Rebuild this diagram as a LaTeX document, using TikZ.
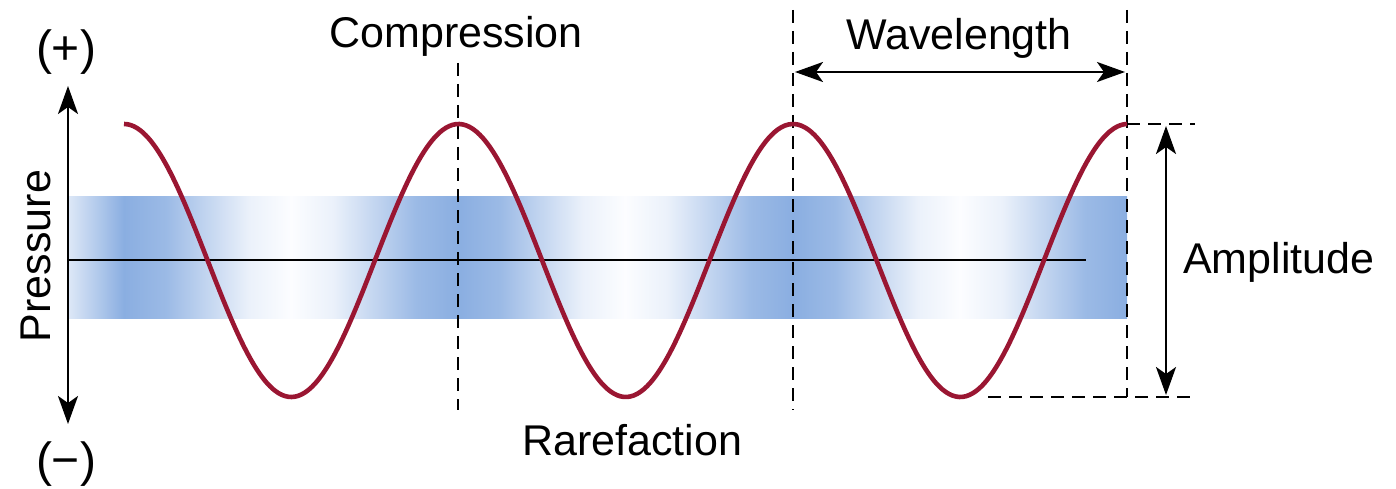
\documentclass[tikz,border=0pt]{standalone}
\usepackage{fontspec}
\setmainfont{Liberation Sans}
\usetikzlibrary{arrows.meta}
\definecolor{wavered}{RGB}{154,22,50}
\definecolor{banddark}{RGB}{138,174,225}
\definecolor{bandlight}{RGB}{222,232,247}
\definecolor{bandwhite}{RGB}{252,253,255}
\colorlet{bEF}{banddark!85!bandwhite}
\colorlet{bHF}{banddark!50!bandwhite}
\colorlet{bFF}{banddark!15!bandwhite}
\pgfdeclarehorizontalshading{bandshade}{100bp}{%
  color(0bp)=(bandlight); color(25bp)=(bandlight);
  color(27.64bp)=(banddark);
  color(29.61bp)=(bEF); color(31.585bp)=(bHF); color(33.56bp)=(bFF);
  color(35.53bp)=(bandwhite);
  color(37.50bp)=(bFF); color(39.47bp)=(bHF); color(41.44bp)=(bEF);
  color(43.41bp)=(banddark);
  color(45.38bp)=(bEF); color(47.355bp)=(bHF); color(49.33bp)=(bFF);
  color(51.30bp)=(bandwhite);
  color(53.28bp)=(bFF); color(55.265bp)=(bHF); color(57.25bp)=(bEF);
  color(59.23bp)=(banddark);
  color(61.20bp)=(bEF); color(63.17bp)=(bHF); color(65.14bp)=(bFF);
  color(67.11bp)=(bandwhite);
  color(69.08bp)=(bFF); color(71.055bp)=(bHF); color(73.03bp)=(bEF);
  color(75bp)=(banddark); color(100bp)=(banddark)}
\tikzset{
  lbl/.style={font=\fontsize{43}{50}\selectfont, inner sep=0pt},
  sign/.style={font=\fontsize{48}{56}\selectfont, inner sep=0pt},
  guide/.style={line width=2pt, dash pattern=on 13pt off 8pt},
  dimarrow/.style={line width=2.5pt, {Stealth[length=28pt,width=20pt,inset=7pt]}-{Stealth[length=28pt,width=20pt,inset=7pt]}},
  wave/.style={line width=4.6pt, wavered},
}
\begin{document}
\begin{tikzpicture}[x=1pt,y=-1pt]
\useasboundingbox (0,0) rectangle (1396,489);
% blue band
\path[shading=bandshade, shading angle=0] (68,196) rectangle (1127,318);
% coordinates
\coordinate (axtop) at (68,86);
\coordinate (axbot) at (68,424);
\coordinate (midL) at (68,260);
\coordinate (midR) at (1086,260);
\coordinate (c1top) at (458,63);
\coordinate (c1bot) at (458,410);
\coordinate (c2top) at (793,10);
\coordinate (c2bot) at (793,410);
\coordinate (c3top) at (1127,10);
\coordinate (c3bot) at (1127,397);
\coordinate (wlL) at (795,72);
\coordinate (wlR) at (1125,72);
\coordinate (amtopL) at (1127,124);
\coordinate (amtopR) at (1195,124);
\coordinate (ambotL) at (988,397);
\coordinate (ambotR) at (1195,397);
\coordinate (amT) at (1166,126);
\coordinate (amB) at (1166,395);
% center line
\draw[line width=2pt] (midL) -- (midR);
% dashed guides
\draw[guide] (c1top) -- (c1bot);
\draw[guide] (c2top) -- (c2bot);
\draw[guide] (c3top) -- (c3bot);
\draw[guide] (amtopL) -- (amtopR);
\draw[guide] (ambotL) -- (ambotR);
% wave
\draw[wave] plot[domain=124:1127, samples=300, smooth] (\x, {260.5-136.5*cos((\x-124)*1.076233)});
% arrows
\draw[dimarrow] (axtop) -- (axbot);
\draw[dimarrow] (wlL) -- (wlR);
\draw[dimarrow] (amT) -- (amB);
% labels
\node[lbl, anchor=base] (comp) at (456,48) {Compression};
\node[lbl, anchor=base] (wave) at (959,50) {Wavelength};
\node[lbl, anchor=base] (rare) at (632,455) {Rarefaction};
\node[lbl, anchor=base west] (ampl) at (1183,273) {Amplitude};
\node[sign] (plus) at (66,52) {(+)};
\node[sign] (minus) at (66,464) {(−)};
\node[lbl, anchor=base, rotate=90] (press) at (50,256) {Pressure};
\end{tikzpicture}
\end{document}
